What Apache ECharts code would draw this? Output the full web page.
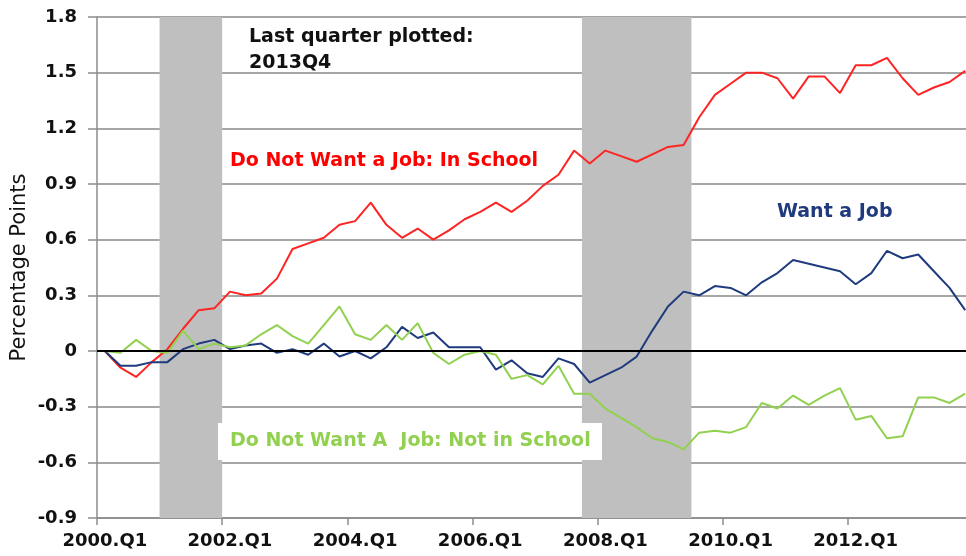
<!DOCTYPE html>
<html>
<head>
<meta charset="utf-8">
<title>Percentage Points</title>
<script src="https://cdn.jsdelivr.net/npm/echarts@6/dist/echarts.min.js"></script>
<style>
    html, body { margin: 0; padding: 0; background: #fff; }
    #main { width: 966px; height: 556px; }
</style>
</head>
<body>
<div id="main"></div>
<script>
// quarters on the x axis
var quarters = [
    '2000.Q1', '2000.Q2', '2000.Q3', '2000.Q4', '2001.Q1', '2001.Q2', '2001.Q3', '2001.Q4',
    '2002.Q1', '2002.Q2', '2002.Q3', '2002.Q4', '2003.Q1', '2003.Q2', '2003.Q3', '2003.Q4',
    '2004.Q1', '2004.Q2', '2004.Q3', '2004.Q4', '2005.Q1', '2005.Q2', '2005.Q3', '2005.Q4',
    '2006.Q1', '2006.Q2', '2006.Q3', '2006.Q4', '2007.Q1', '2007.Q2', '2007.Q3', '2007.Q4',
    '2008.Q1', '2008.Q2', '2008.Q3', '2008.Q4', '2009.Q1', '2009.Q2', '2009.Q3', '2009.Q4',
    '2010.Q1', '2010.Q2', '2010.Q3', '2010.Q4', '2011.Q1', '2011.Q2', '2011.Q3', '2011.Q4',
    '2012.Q1', '2012.Q2', '2012.Q3', '2012.Q4', '2013.Q1', '2013.Q2', '2013.Q3', '2013.Q4'
];

// recession quarters (shaded)
var recessionQuarters = [
    '2001.Q1', '2001.Q2', '2001.Q3', '2001.Q4',
    '2007.Q4', '2008.Q1', '2008.Q2', '2008.Q3', '2008.Q4', '2009.Q1', '2009.Q2'
];

// Do Not Want a Job: In School
var inSchool = [
    0, -0.09, -0.14, -0.06, 0.01, 0.12, 0.22, 0.23, 0.32, 0.30, 0.31, 0.39, 0.55, 0.58,
    0.61, 0.68, 0.70, 0.80, 0.68, 0.61, 0.66, 0.60, 0.65, 0.71, 0.75, 0.80, 0.75, 0.81,
    0.89, 0.95, 1.08, 1.01, 1.08, 1.05, 1.02, 1.06, 1.10, 1.11, 1.26, 1.38, 1.44, 1.50,
    1.50, 1.47, 1.36, 1.48, 1.48, 1.39, 1.54, 1.54, 1.58, 1.47, 1.38, 1.42, 1.45, 1.51
];

// Want a Job
var wantJob = [
    0, -0.08, -0.08, -0.06, -0.06, 0.01, 0.04, 0.06, 0.01, 0.03, 0.04, -0.01, 0.01, -0.02,
    0.04, -0.03, 0.00, -0.04, 0.02, 0.13, 0.07, 0.10, 0.02, 0.02, 0.02, -0.10, -0.05, -0.12,
    -0.14, -0.04, -0.07, -0.17, -0.13, -0.09, -0.03, 0.11, 0.24, 0.32, 0.30, 0.35, 0.34, 0.30,
    0.37, 0.42, 0.49, 0.47, 0.45, 0.43, 0.36, 0.42, 0.54, 0.50, 0.52, 0.43, 0.34, 0.22
];

// Do Not Want A Job: Not in School
var notInSchool = [
    0, -0.01, 0.06, 0.00, -0.01, 0.11, 0.01, 0.04, 0.02, 0.03, 0.09, 0.14, 0.08, 0.04,
    0.14, 0.24, 0.09, 0.06, 0.14, 0.06, 0.15, -0.01, -0.07, -0.02, 0.00, -0.02, -0.15, -0.13,
    -0.18, -0.08, -0.23, -0.23, -0.31, -0.36, -0.41, -0.47, -0.49, -0.53, -0.44, -0.43, -0.44, -0.41,
    -0.28, -0.31, -0.24, -0.29, -0.24, -0.20, -0.37, -0.35, -0.47, -0.46, -0.25, -0.25, -0.28, -0.23
];

var yMin = -0.9, yMax = 1.8, yStep = 0.3;

var chart = echarts.init(document.getElementById('main'), null, {renderer: 'canvas'});

//recession runs -> [start, end) in quarter slots, drawn on a hidden 0..n value axis
var shadeAreas = [];
quarters.forEach(function (q, i) {
    if (recessionQuarters.indexOf(q) < 0) return;
    var last = shadeAreas[shadeAreas.length - 1];
    if (last && last[1].xAxis === i) {
        last[1].xAxis = i + 1;
    } else {
        shadeAreas.push([{xAxis: i}, {xAxis: i + 1}]);
    }
});

var labelFont = {fontFamily: 'DejaVu Sans', fontWeight: 'bold', fontSize: 19};

chart.setOption({
    animation: false,
    backgroundColor: '#fff',
    grid: {left: 97, top: 17, width: 876, height: 501, containLabel: false, outerBoundsMode: 'none'},
    xAxis: [{
        type: 'category',
        data: quarters,
        boundaryGap: true,
        axisLine: {onZero: false, lineStyle: {color: '#8c8c8c', width: 1.5}},
        axisTick: {show: true, interval: 7, length: 7, lineStyle: {color: '#8c8c8c', width: 1.5}},
        axisLabel: {
            interval: 7, margin: 14, color: '#111',
            fontFamily: 'DejaVu Sans', fontWeight: 'bold', fontSize: 18
        },
        splitLine: {show: false}
    }, {
        type: 'value', min: 0, max: quarters.length, show: false
    }],
    yAxis: {
        type: 'value',
        min: yMin, max: yMax, interval: yStep,
        name: 'Percentage Points',
        nameLocation: 'middle',
        nameGap: 67,
        nameMoveOverlap: false,
        nameTextStyle: {fontFamily: 'DejaVu Sans', fontSize: 21, color: '#111'},
        axisLine: {show: true, lineStyle: {color: '#8c8c8c', width: 1.5}},
        axisTick: {show: true, length: 9, lineStyle: {color: '#8c8c8c', width: 1.5}},
        axisLabel: {
            margin: 20, color: '#111',
            fontFamily: 'DejaVu Sans', fontWeight: 'bold', fontSize: 18
        },
        splitLine: {lineStyle: {color: '#a6a6a6', width: 2}}
    },
    series: [{
        name: 'Recession',
        type: 'line',
        xAxisIndex: 1,
        data: [],
        silent: true,
        z: 1,
        markArea: {
            silent: true,
            itemStyle: {color: '#bfbfbf'},
            data: shadeAreas
        }
    }, {
        name: 'Do Not Want a Job: In School',
        type: 'line',
        data: inSchool,
        showSymbol: false,
        lineStyle: {color: '#ff2424', width: 2},
        z: 3,
        markLine: {
            silent: true,
            symbol: 'none',
            label: {show: false},
            lineStyle: {color: '#000', width: 2, type: 'solid'},
            data: [{yAxis: 0}]
        }
    }, {
        name: 'Want a Job',
        type: 'line',
        data: wantJob,
        showSymbol: false,
        lineStyle: {color: '#1f3b7d', width: 2},
        z: 3
    }, {
        name: 'Do Not Want A Job: Not in School',
        type: 'line',
        data: notInSchool,
        showSymbol: false,
        lineStyle: {color: '#92d050', width: 2},
        z: 3
    }],
    graphic: [{
        type: 'text', left: 249, top: 24, z: 10,
        style: Object.assign({text: 'Last quarter plotted:\n2013Q4', fill: '#111', lineHeight: 26}, labelFont)
    }, {
        type: 'text', left: 230, top: 152, z: 10,
        style: Object.assign({text: 'Do Not Want a Job: In School', fill: '#ff0000'}, labelFont)
    }, {
        type: 'text', left: 777, top: 203, z: 10,
        style: Object.assign({text: 'Want a Job', fill: '#1f3b7d'}, labelFont)
    }, {
        type: 'rect', z: 9,
        shape: {x: 218, y: 423, width: 384, height: 37},
        style: {fill: '#fff'}
    }, {
        type: 'text', left: 230, top: 432, z: 10,
        style: Object.assign({text: 'Do Not Want A  Job: Not in School', fill: '#92d050'}, labelFont)
    }]
});
</script>
</body>
</html>
